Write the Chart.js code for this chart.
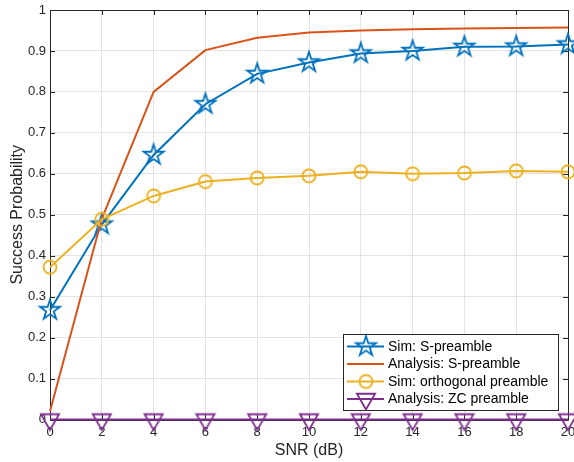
<!DOCTYPE html>
<html>
<head>
<meta charset="utf-8">
<script src="https://cdn.jsdelivr.net/npm/chart.js@4/dist/chart.umd.min.js"></script>
<style>
  html, body { margin: 0; padding: 0; background: #fff; }
  #myChart { display: block; }
</style>
</head>
<body>
<canvas id="myChart" width="574" height="462"></canvas>
<script>
// SNR points (dB)
const snr = [0, 2, 4, 6, 8, 10, 12, 14, 16, 18, 20];

// success probability per curve
const simS = [0.267, 0.476, 0.646, 0.770, 0.844, 0.872, 0.894, 0.900, 0.910, 0.911, 0.916];
const analysisS = [0.02, 0.49, 0.80, 0.902, 0.932, 0.945, 0.950, 0.953, 0.955, 0.956, 0.957];
const simOrthogonal = [0.372, 0.489, 0.546, 0.581, 0.590, 0.595, 0.605, 0.600, 0.602, 0.607, 0.605];
const analysisZC = [0, 0, 0, 0, 0, 0, 0, 0, 0, 0, 0];

const seriesNames = ["Sim: S-preamble", "Analysis: S-preamble", "Sim: orthogonal preamble", "Analysis: ZC preamble"];
const yTickLabels = ["0", "0.1", "0.2", "0.3", "0.4", "0.5", "0.6", "0.7", "0.8", "0.9", "1"];

const BLUE = "#0072BD";
const ORANGE = "#D95319";
const YELLOW = "#EDB120";
const PURPLE = "#7E2F8E";
const AXIS = "#262626";
const FONT = "'Liberation Sans', Arial, Helvetica, sans-serif";

// marker images, drawn once and reused for the plot and the legend
function makeMarker(kind, color) {
  const size = 28;
  const c = document.createElement("canvas");
  c.width = size;
  c.height = size;
  const g = c.getContext("2d");
  const cx = size / 2, cy = size / 2;
  g.strokeStyle = color;
  g.lineWidth = 1.8;
  g.lineJoin = "miter";
  g.beginPath();
  if (kind === "star") {
    const R = 10.5, r = R * 0.382;
    for (let i = 0; i < 10; i++) {
      const rad = i % 2 === 0 ? R : r;
      const a = -Math.PI / 2 + i * Math.PI / 5;
      const px = cx + rad * Math.cos(a), py = cy + rad * Math.sin(a);
      if (i === 0) g.moveTo(px, py); else g.lineTo(px, py);
    }
    g.closePath();
  } else if (kind === "circle") {
    g.arc(cx, cy, 6.5, 0, Math.PI * 2);
  } else if (kind === "triangleDown") {
    const R = 10.5;
    for (let i = 0; i < 3; i++) {
      const a = Math.PI / 2 + i * 2 * Math.PI / 3;
      const px = cx + R * Math.cos(a), py = cy + R * Math.sin(a);
      if (i === 0) g.moveTo(px, py); else g.lineTo(px, py);
    }
    g.closePath();
  }
  g.stroke();
  return c;
}

const starImg = makeMarker("star", BLUE);
const circleImg = makeMarker("circle", YELLOW);
const triImg = makeMarker("triangleDown", PURPLE);

function toPoints(values) {
  return snr.map((x, i) => ({ x: x, y: values[i] }));
}

function lineSet(label, values, color, marker, order) {
  return {
    label: label,
    data: toPoints(values),
    borderColor: color,
    backgroundColor: color,
    borderWidth: 2,
    tension: 0,
    fill: false,
    clip: false,
    order: order,
    pointStyle: marker || false,
    pointRadius: marker ? 10 : 0,
    pointHoverRadius: marker ? 10 : 0
  };
}

// box around the axes, inward tick marks, and the legend inside the plot
const frame = {
  id: "frame",
  beforeDatasetsDraw(chart) {
    const ctx = chart.ctx;
    const a = chart.chartArea;
    const xs = chart.scales.x, ys = chart.scales.y;
    const tl = 5;
    ctx.save();
    ctx.strokeStyle = AXIS;
    ctx.lineWidth = 1;
    ctx.beginPath();
    ctx.rect(Math.round(a.left) + 0.5, Math.round(a.top) + 0.5,
             Math.round(a.right - a.left), Math.round(a.bottom - a.top));
    xs.ticks.forEach(t => {
      const px = Math.round(xs.getPixelForValue(t.value)) + 0.5;
      ctx.moveTo(px, a.bottom); ctx.lineTo(px, a.bottom - tl);
      ctx.moveTo(px, a.top); ctx.lineTo(px, a.top + tl);
    });
    ys.ticks.forEach(t => {
      const py = Math.round(ys.getPixelForValue(t.value)) + 0.5;
      ctx.moveTo(a.left, py); ctx.lineTo(a.left + tl, py);
      ctx.moveTo(a.right, py); ctx.lineTo(a.right - tl, py);
    });
    ctx.stroke();
    ctx.restore();
  },
  afterDraw(chart) {
    const ctx = chart.ctx;
    const box = { left: 343.5, top: 334.5, right: 558.5, bottom: 410.5 };
    const rows = [346.5, 364, 381.5, 399];
    const markers = [starImg, null, circleImg, triImg];
    ctx.save();
    ctx.fillStyle = "#fff";
    ctx.fillRect(box.left, box.top, box.right - box.left, box.bottom - box.top);
    ctx.strokeStyle = AXIS;
    ctx.lineWidth = 1;
    ctx.strokeRect(box.left, box.top, box.right - box.left, box.bottom - box.top);
    chart.data.datasets.forEach((ds, i) => {
      const y = rows[i];
      ctx.strokeStyle = ds.borderColor;
      ctx.lineWidth = 2;
      ctx.beginPath();
      ctx.moveTo(347, y);
      ctx.lineTo(384, y);
      ctx.stroke();
      const m = markers[i];
      if (m) ctx.drawImage(m, 366 - m.width / 2, y - m.height / 2);
      ctx.fillStyle = "#000";
      ctx.font = "14px " + FONT;
      ctx.textBaseline = "middle";
      ctx.textAlign = "left";
      ctx.fillText(ds.label, 388, y + 0.5);
    });
    ctx.restore();
  }
};

const ctx = document.getElementById("myChart").getContext("2d");
new Chart(ctx, {
  type: "line",
  data: {
    datasets: [
      lineSet(seriesNames[0], simS, BLUE, starImg, 4),
      lineSet(seriesNames[1], analysisS, ORANGE, null, 3),
      lineSet(seriesNames[2], simOrthogonal, YELLOW, circleImg, 2),
      lineSet(seriesNames[3], analysisZC, PURPLE, triImg, 1)
    ]
  },
  options: {
    responsive: false,
    animation: false,
    events: [],
    layout: { autoPadding: false, padding: { top: 10, right: 6, left: 0, bottom: 0 } },
    plugins: {
      legend: { display: false },
      tooltip: { enabled: false }
    },
    scales: {
      x: {
        type: "linear",
        min: 0,
        max: 20,
        afterFit(scale) {
          scale.height = 42.5;
          scale.paddingLeft = 0;
          scale.paddingRight = 0;
        },
        ticks: {
          stepSize: 2,
          padding: 5,
          maxRotation: 0,
          color: AXIS,
          font: { family: FONT, size: 13 }
        },
        grid: { color: "#e3e3e3", drawTicks: false },
        border: { display: false },
        title: {
          display: true,
          text: "SNR (dB)",
          color: AXIS,
          font: { family: FONT, size: 16 },
          padding: { top: 2, bottom: 2 }
        }
      },
      y: {
        type: "linear",
        min: 0,
        max: 1,
        afterFit(scale) {
          scale.width = 50;
          scale.paddingTop = 0;
          scale.paddingBottom = 0;
        },
        ticks: {
          stepSize: 0.1,
          padding: 4,
          color: AXIS,
          font: { family: FONT, size: 13 },
          callback: (value, index) => yTickLabels[index]
        },
        grid: { color: "#e3e3e3", drawTicks: false },
        border: { display: false },
        title: {
          display: true,
          text: "Success Probability",
          color: AXIS,
          font: { family: FONT, size: 16 },
          padding: { top: 8, bottom: 8 }
        }
      }
    }
  },
  plugins: [frame]
});
</script>
</body>
</html>
